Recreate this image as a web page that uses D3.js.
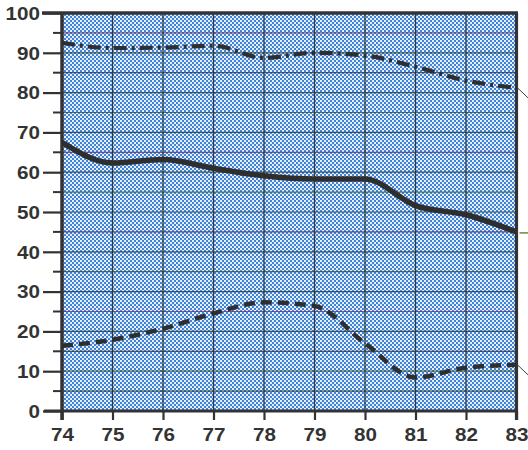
<!DOCTYPE html>
<html><head><meta charset="utf-8">
<script src="https://cdn.jsdelivr.net/npm/d3@7"></script>
<style>body{margin:0;background:#fff}svg{display:block}</style>
</head><body>
<script>
const years = [74,75,76,77,78,79,80,81,82,83];
const topSeries = [92.5,91.2,91.3,91.8,88.7,90.0,89.3,86.5,83.0,81.2];
const midSeries = [67.5,62.3,63.2,61.0,59.1,58.3,58.3,51.6,49.3,45.0];
const lowSeries = [16.4,17.9,20.7,24.5,27.3,26.4,17.0,8.4,10.9,11.6];
const yTickLabels = [0,10,20,30,40,50,60,70,80,90,100];

const W=528,H=450;
const svg=d3.select("body").append("svg").attr("width",W).attr("height",H).attr("shape-rendering","auto");
const x=d3.scaleLinear().domain([74,83]).range([62,516.5]);
const y=d3.scaleLinear().domain([0,100]).range([411,13]);

const defs=svg.append("defs");
const pat=defs.append("pattern").attr("id","dots").attr("patternUnits","userSpaceOnUse").attr("width",4).attr("height",4);
pat.append("rect").attr("width",4).attr("height",4).attr("fill","#3f84d8");
pat.append("rect").attr("x",0).attr("y",0).attr("width",2).attr("height",2).attr("fill","#e4eefc").attr("shape-rendering","crispEdges");
pat.append("rect").attr("x",2).attr("y",2).attr("width",2).attr("height",2).attr("fill","#e4eefc").attr("shape-rendering","crispEdges");

svg.append("rect").attr("x",x(74)).attr("y",y(100)).attr("width",x(83)-x(74)).attr("height",y(0)-y(100)).attr("fill","url(#dots)");

// horizontal grid every 5
const hcol=["#2f4036","#3d5a3a","#3a3f4a","#2f4036","#6a3f6e","#2f4036","#3d5a3a","#2f4036","#5b3b66","#2f4036","#3f6b3a","#2f4036","#6a3f6e","#2f4036","#3d5a3a","#2f4036","#3a3f4a","#2f4036","#6a3f6e","#2f4036","#3a3f4a"];
const hv=d3.range(5,100,5);
svg.append("g").selectAll("line").data(hv).join("line")
 .attr("x1",x(74)).attr("x2",x(83)).attr("y1",d=>y(d)).attr("y2",d=>y(d))
 .attr("stroke",(d,i)=>hcol[i%hcol.length]).attr("stroke-width",1.2).attr("opacity",0.85);
// vertical grid
svg.append("g").selectAll("line").data(years.slice(1,-1)).join("line")
 .attr("x1",d=>x(d)).attr("x2",d=>x(d)).attr("y1",y(100)).attr("y2",y(0))
 .attr("stroke","#2e3a36").attr("stroke-width",1.3);

const FONT="Liberation Sans, Arial, sans-serif", SX=1.18;
// Y axis
const yAxis=d3.axisLeft(y).tickValues(yTickLabels).tickSize(19).tickPadding(3).tickFormat(d3.format("d"));
const ya=svg.append("g").attr("transform",`translate(${x(74)},0)`).call(yAxis);
ya.select(".domain").remove();
ya.selectAll(".tick line").attr("stroke","#333").attr("stroke-width",2.2);
ya.selectAll(".tick text").attr("fill","#333").attr("font-family",FONT).attr("font-weight","bold").attr("font-size",17.5).attr("dy","0.36em")
  .attr("x",-22/SX).attr("transform",`scale(${SX},1)`);
// minor y ticks
svg.append("g").selectAll("line").data(d3.range(5,100,10)).join("line")
 .attr("x1",x(74)-9).attr("x2",x(74)).attr("y1",d=>y(d)).attr("y2",d=>y(d))
 .attr("stroke","#333").attr("stroke-width",2);

// X axis
const xAxis=d3.axisBottom(x).tickValues(years).tickSize(9).tickPadding(9).tickFormat(d3.format("d"));
const xa=svg.append("g").attr("transform",`translate(0,${y(0)})`).call(xAxis);
xa.select(".domain").remove();
xa.selectAll(".tick line").attr("stroke","#333").attr("stroke-width",2.2);
xa.selectAll(".tick text").attr("fill","#333").attr("font-family",FONT).attr("font-weight","bold").attr("font-size",17.5)
  .attr("transform",`scale(${SX},1)`);

// frame
const fr=svg.append("g").attr("stroke","#333").attr("fill","none");
fr.append("line").attr("x1",x(74)-20).attr("x2",x(83)+1.5).attr("y1",y(100)).attr("y2",y(100)).attr("stroke-width",3.5);
fr.append("line").attr("x1",x(74)).attr("x2",x(74)).attr("y1",y(100)).attr("y2",y(0)+9).attr("stroke-width",3.5);
fr.append("line").attr("x1",x(83)).attr("x2",x(83)).attr("y1",y(100)).attr("y2",y(0)+9).attr("stroke-width",3.2);
fr.append("line").attr("x1",x(74)-18).attr("x2",x(83)).attr("y1",y(0)).attr("y2",y(0)).attr("stroke-width",3.2);

// series
const line=d3.line().x((d,i)=>x(years[i])).y(d=>y(d)).curve(d3.curveMonotoneX);
const clip=defs.append("clipPath").attr("id","pc");
clip.append("rect").attr("x",x(74)).attr("y",y(100)).attr("width",x(83)-x(74)).attr("height",y(0)-y(100));
const sg=svg.append("g").attr("clip-path","url(#pc)");
sg.append("path").datum(topSeries).attr("d",line).attr("fill","none").attr("stroke","#2e2e2e").attr("stroke-width",4.2).attr("stroke-dasharray","13,5,3,5");
sg.append("path").datum(midSeries).attr("d",line).attr("fill","none").attr("stroke","#2e2e2e").attr("stroke-width",5.5).attr("stroke-linejoin","round");
sg.append("path").datum(lowSeries).attr("d",line).attr("fill","none").attr("stroke","#2e2e2e").attr("stroke-width",4.5).attr("stroke-dasharray","11,6");

// small leader strokes past the right edge
const last=[topSeries[9],lowSeries[9]];
svg.append("g").selectAll("line").data(last).join("line")
 .attr("x1",x(83)+1).attr("y1",d=>y(d)).attr("x2",W).attr("y2",d=>y(d)+10)
 .attr("stroke","#444").attr("stroke-width",1);
svg.append("line").attr("x1",x(83)+3).attr("x2",W).attr("y1",y(midSeries[9])+1).attr("y2",y(midSeries[9])+1).attr("stroke","#6a8a3a").attr("stroke-width",1.5);
</script>
</body></html>
